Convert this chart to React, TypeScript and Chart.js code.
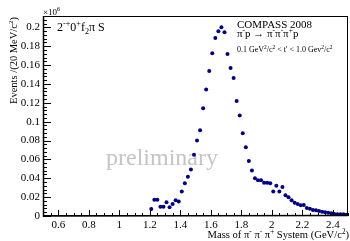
import { useEffect, useRef } from 'react';
import { Chart, registerables } from 'chart.js';

Chart.register(...registerables);

// Mass bin centres (GeV/c^2), 20 MeV bins
const massBins = [
  1.21, 1.23, 1.25, 1.27, 1.29, 1.31, 1.33, 1.35, 1.37, 1.39,
  1.41, 1.43, 1.45, 1.47, 1.49, 1.51, 1.53, 1.55, 1.57, 1.59,
  1.61, 1.63, 1.65, 1.67, 1.69, 1.71, 1.73, 1.75, 1.77, 1.79,
  1.81, 1.83, 1.85, 1.87, 1.89, 1.91, 1.93, 1.95, 1.97, 1.99,
  2.01, 2.03, 2.05, 2.07, 2.09, 2.11, 2.13, 2.15, 2.17, 2.19,
  2.21, 2.23, 2.25, 2.27, 2.29, 2.31, 2.33, 2.35, 2.37, 2.39,
  2.41, 2.43, 2.45, 2.47, 2.49,
];

// Events per bin (x10^6)
const events = [
  0.0074, 0.0172, 0.0172, 0.0099, 0.0099, 0.0145, 0.0092, 0.0127, 0.0166, 0.0155,
  0.0261, 0.0346, 0.0416, 0.0494, 0.0649, 0.0800, 0.0910, 0.1143, 0.1340, 0.1538,
  0.1725, 0.1887, 0.1958, 0.2000, 0.1947, 0.1718, 0.1570, 0.1464, 0.1220, 0.1066,
  0.0878, 0.0730, 0.0582, 0.0483, 0.0399, 0.0378, 0.0378, 0.0353, 0.0353, 0.0346,
  0.0261, 0.0320, 0.0261, 0.0307, 0.0219, 0.0198, 0.0166, 0.0141, 0.0127, 0.0113,
  0.0116, 0.0085, 0.0077, 0.0063, 0.0060, 0.0053, 0.0046, 0.0039, 0.0035, 0.0028,
  0.0021, 0.0018, 0.0018, 0.0018, 0.0014,
];

const xTickValues = [0.6, 0.8, 1, 1.2, 1.4, 1.6, 1.8, 2, 2.2, 2.4];
const yTickValues = [0, 0.02, 0.04, 0.06, 0.08, 0.1, 0.12, 0.14, 0.16, 0.18, 0.2];

const X_MIN = 0.5;
const X_MAX = 2.5;
const Y_MIN = 0;
const Y_MAX = 0.212;
const X_MINOR = 0.05;
const X_MAJOR = 0.2;
const Y_MINOR = 0.004;
const Y_MAJOR = 0.02;

const FAM = '"Liberation Serif", "DejaVu Serif", serif';

type Seg = [string, number]; // 0 normal, 1 superscript, -1 subscript

function drawRich(
  ctx: CanvasRenderingContext2D,
  segs: Seg[],
  x: number,
  y: number,
  size: number,
  align: 'left' | 'right' | 'center',
  color = '#000'
) {
  const fontFor = (k: number) => `${k ? size * 0.68 : size}px ${FAM}`;
  let w = 0;
  for (const [t, k] of segs) {
    ctx.font = fontFor(k);
    w += ctx.measureText(t).width;
  }
  let cx = align === 'right' ? x - w : align === 'center' ? x - w / 2 : x;
  ctx.textAlign = 'left';
  ctx.textBaseline = 'alphabetic';
  ctx.fillStyle = color;
  for (const [t, k] of segs) {
    ctx.font = fontFor(k);
    const dy = k === 1 ? -size * 0.4 : k === -1 ? size * 0.22 : 0;
    ctx.fillText(t, cx, y + dy);
    cx += ctx.measureText(t).width;
  }
}

const isMult = (v: number, step: number) => Math.abs(v / step - Math.round(v / step)) < 1e-6;

const decorPlugin = {
  id: 'decor',
  beforeDatasetsDraw(chart: any) {
    const { ctx } = chart;
    ctx.save();
    ctx.font = `24px ${FAM}`;
    ctx.fillStyle = '#c4c4c4';
    ctx.textAlign = 'left';
    ctx.textBaseline = 'alphabetic';
    ctx.fillText('preliminary', 106, 165);
    ctx.restore();
  },
  afterDraw(chart: any) {
    const { ctx, chartArea: a, scales } = chart;
    const x = scales.x;
    const y = scales.y;
    ctx.save();
    ctx.strokeStyle = '#000';
    ctx.lineWidth = 1;
    // frame
    ctx.strokeRect(a.left + 0.5, a.top + 0.5, a.right - a.left - 1, a.bottom - a.top - 1);
    // x ticks (inward)
    ctx.beginPath();
    for (let i = 0; ; i++) {
      const v = X_MIN + i * X_MINOR;
      if (v > X_MAX + 1e-9) break;
      const px = Math.round(x.getPixelForValue(v)) + 0.5;
      const len = isMult(v, X_MAJOR) ? 6 : 3;
      ctx.moveTo(px, a.bottom);
      ctx.lineTo(px, a.bottom - len);
    }
    // y ticks (inward)
    for (let i = 0; ; i++) {
      const v = Y_MIN + i * Y_MINOR;
      if (v > Y_MAX + 1e-9) break;
      const py = Math.round(y.getPixelForValue(v)) + 0.5;
      const len = isMult(v, Y_MAJOR) ? 8 : 4;
      ctx.moveTo(a.left, py);
      ctx.lineTo(a.left + len, py);
    }
    ctx.stroke();
    // thicker axes
    ctx.lineWidth = 1.5;
    ctx.beginPath();
    ctx.moveTo(a.left + 0.5, a.top);
    ctx.lineTo(a.left + 0.5, a.bottom);
    ctx.lineTo(a.right, a.bottom - 0.5);
    ctx.stroke();

    // texts
    drawRich(ctx, [['\u00d710', 0], ['6', 1]], 43, 15, 9, 'left');
    drawRich(
      ctx,
      [['2', 0], ['-+', 1], ['0', 0], ['+', 1], ['f', 0], ['2', -1], ['\u03c0 S', 0]],
      57, 31, 12, 'left'
    );
    drawRich(ctx, [['COMPASS 2008', 0]], 237, 28, 11, 'left');
    drawRich(
      ctx,
      [['\u03c0', 0], ['-', 1], ['p \u2192 \u03c0', 0], ['-', 1], ['\u03c0', 0], ['-', 1], ['\u03c0', 0], ['+', 1], ['p', 0]],
      237, 37, 11, 'left'
    );
    drawRich(
      ctx,
      [['0.1 GeV', 0], ['2', 1], ['/c', 0], ['2', 1], [" < t' < 1.0 Gev", 0], ['2', 1], ['/c', 0], ['2', 1]],
      237, 52, 8, 'left'
    );
    // x title
    drawRich(
      ctx,
      [['Mass of \u03c0', 0], ['-', 1], [' \u03c0', 0], ['-', 1], [' \u03c0', 0], ['+', 1], [' System (GeV/c', 0], ['2', 1], [')', 0]],
      349, 238, 10.6, 'right'
    );
    // y title
    ctx.translate(17, a.top + 1);
    ctx.rotate(-Math.PI / 2);
    drawRich(ctx, [['Events /(20 MeV/c', 0], ['2', 1], [')', 0]], 0, 0, 10.5, 'right');
    ctx.restore();
  },
};

export default function App() {
  const ref = useRef<HTMLCanvasElement | null>(null);

  useEffect(() => {
    if (!ref.current) return;
    const chart = new Chart(ref.current, {
      type: 'scatter',
      data: {
        datasets: [
          {
            data: massBins.map((m, i) => ({ x: m, y: events[i] })),
            pointRadius: 2,
            pointHoverRadius: 2,
            backgroundColor: '#000080',
            borderColor: '#000080',
            borderWidth: 0,
          },
        ],
      },
      options: {
        animation: false,
        responsive: false,
        devicePixelRatio: 1,
        layout: { padding: { left: 0, top: 16, right: 0, bottom: 0 } },
        plugins: { legend: { display: false }, tooltip: { enabled: false } },
        scales: {
          x: {
            type: 'linear',
            min: X_MIN,
            max: X_MAX,
            afterBuildTicks: (s: any) => {
              s.ticks = xTickValues.map((v) => ({ value: v }));
            },
            afterFit: (s: any) => {
              s.height = 25;
            },
            grid: { display: false, drawTicks: false },
            border: { display: false },
            ticks: {
              padding: 3,
              maxRotation: 0,
              autoSkip: false,
              color: '#000',
              font: { family: FAM, size: 11 },
              callback: (v: any) => String(+Number(v).toFixed(2)),
            },
          },
          y: {
            type: 'linear',
            min: Y_MIN,
            max: Y_MAX,
            afterBuildTicks: (s: any) => {
              s.ticks = yTickValues.map((v) => ({ value: v }));
            },
            afterFit: (s: any) => {
              s.width = 43;
            },
            grid: { display: false, drawTicks: false },
            border: { display: false },
            ticks: {
              padding: 3,
              autoSkip: false,
              color: '#000',
              font: { family: FAM, size: 11 },
              callback: (v: any) => String(+Number(v).toFixed(3)),
            },
          },
        },
      },
      plugins: [decorPlugin],
    });
    return () => chart.destroy();
  }, []);

  return (
    <div style={{ position: 'absolute', left: 0, top: 0, width: 350, height: 241, background: '#fff' }}>
      <canvas ref={ref} width={350} height={241} style={{ display: 'block' }} />
    </div>
  );
}
